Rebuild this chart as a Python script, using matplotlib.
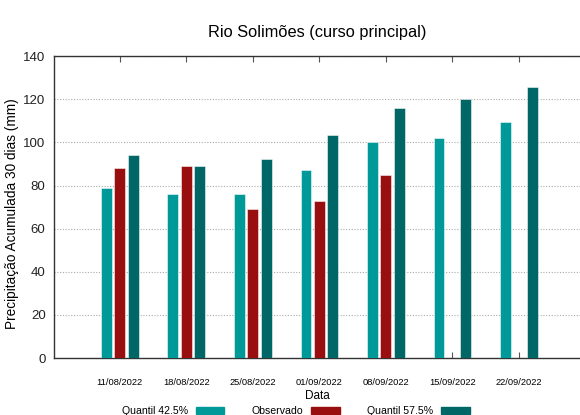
import numpy as np
import matplotlib
matplotlib.use("Agg")
import matplotlib.pyplot as plt
from matplotlib.patches import Patch

plt.rcParams['font.family'] = ['Liberation Sans Narrow', 'Liberation Sans', 'DejaVu Sans']

# dados
datas = ["11/08/2022", "18/08/2022", "25/08/2022", "01/09/2022",
         "08/09/2022", "15/09/2022", "22/09/2022"]
quantil_425 = [79, 76, 76, 87, 100, 102, 109.5]
observado = [88, 89, 69, 73, 85, np.nan, np.nan]
quantil_575 = [94, 89, 92.5, 103.5, 116, 120, 125.5]

cores = ["#009999", "#990e0e", "#006666"]
nomes = ["Quantil 42.5%", "Observado", "Quantil 57.5%"]

fig = plt.figure(figsize=(5.8, 4.15), dpi=100)
ax = fig.add_axes([0.093, 0.137, 0.907, 0.728])

x = np.arange(len(datas))
larg = 0.165
for serie, off, cor in zip([quantil_425, observado, quantil_575], [-0.2, 0, 0.2], cores):
    ax.bar(x + off, serie, width=larg, color=cor, edgecolor=(1, 1, 1, 0.6), linewidth=0.6, zorder=3)

ax.set_xlim(-0.99, 6.92)
ax.set_ylim(0, 140)
ax.set_yticks(range(0, 141, 20))
ax.tick_params(axis='y', length=0, labelsize=9.5, pad=6, colors='#222222')
ax.set_xticks(x)
ax.set_xticklabels(datas, fontsize=6.7)
ax.tick_params(axis='x', direction='in', length=4, top=True, width=0.8, color='#555555', pad=14)
ax.grid(axis='y', linestyle=(0, (1, 1.5)), color='#aaaaaa', linewidth=0.8, zorder=0)
for s in ['left', 'top', 'bottom']:
    ax.spines[s].set_color('#333333')
    ax.spines[s].set_linewidth(1.0)
ax.spines['right'].set_visible(False)

ax.set_title("Rio Solimões (curso principal)", fontsize=11.8, pad=14)
ax.set_ylabel("Precipitação Acumulada 30 dias (mm)", fontsize=9.8)
ax.yaxis.set_label_coords(-0.067, 0.477)
ax.set_xlabel("Data", fontsize=8.5, labelpad=2.5)

handles = [Patch(color=c) for c in cores]
fig.legend(handles, nomes, loc='center', bbox_to_anchor=(0.51, 0.009), ncol=3,
           frameon=False, markerfirst=False, fontsize=7.6, handlelength=2.7,
           handleheight=0.65, columnspacing=2.6, handletextpad=0.75)

fig.savefig("out.png", dpi=100)
